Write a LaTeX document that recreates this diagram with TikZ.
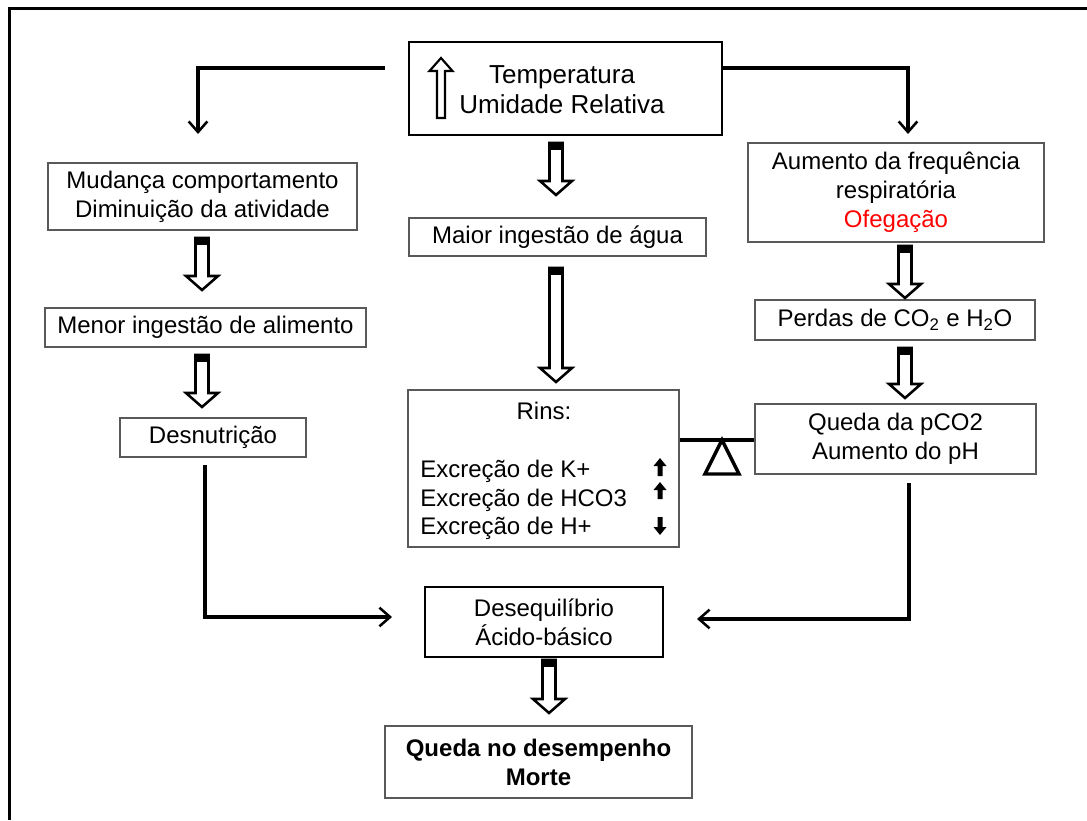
\documentclass[tikz,border=0pt]{standalone}
\usepackage{fontspec}
\setmainfont{Liberation Sans}
\usetikzlibrary{arrows.meta,calc}
\tikzset{
  box/.style={draw=black!65, line width=1.1pt, inner sep=0pt, align=center,
    font=\fontsize{18}{21.75}\selectfont},
  darkbox/.style={box, draw=black, line width=1.5pt},
  txt/.style={inner sep=0pt, align=center, font=\fontsize{18}{21.75}\selectfont},
  conn/.style={line width=2.4pt, -{Straight Barb[length=8pt,width=14pt,line width=1.9pt]}},
  hollow/.style={line width=1.9pt, line join=miter, fill=white},
  frame/.style={line width=2.3pt},
  beam/.style={line width=2.6pt, line join=miter},
}
% hollow block arrow: x, top, tip  (pixel units)
\newcommand\harrow[3]{%
  \draw[hollow] (#1-6.5,#2) -- (#1-6.5,#3-14) -- (#1-16,#3-14) -- (#1,#3)
     -- (#1+16,#3-14) -- (#1+6.5,#3-14) -- (#1+6.5,#2) -- cycle;
  \fill (#1-6.5,#2) rectangle (#1+6.5,#2+7);}
% small filled arrow: x, tip, tail
\newcommand\sarrow[3]{%
  \fill (#1,#2) -- (#1+6.5,{#2+8*sign(#3-#2)}) -- (#1+2.5,{#2+8*sign(#3-#2)})
     -- (#1+2.5,#3) -- (#1-2.5,#3) -- (#1-2.5,{#2+8*sign(#3-#2)})
     -- (#1-6.5,{#2+8*sign(#3-#2)}) -- cycle;}
\begin{document}
\begin{tikzpicture}[x=0.75pt,y=-0.75pt]
\useasboundingbox (0,0) rectangle (1087,820);
\draw[frame] (9.5,820) -- (9.5,8.5) -- (1087,8.5);

% boxes
\node[darkbox, minimum width=313*0.75pt, minimum height=93*0.75pt] (temp) at (565.5,88.5) {};
\node[txt, font=\fontsize{19.5}{22.5}\selectfont] (temptxt) at (562,90) {Temperatura\\Umidade Relativa};
\draw[line width=1.6pt, line join=miter] (441,58) -- (452.5,71) -- (445,71) -- (445,118)
   -- (437,118) -- (437,71) -- (429.5,71) -- cycle;

\node[box, minimum width=309*0.75pt, minimum height=67*0.75pt] (mud) at (202.5,196.5)
  {Mudança comportamento\\Diminuição da atividade};
\node[box, minimum width=321*0.75pt, minimum height=39*0.75pt] (menor) at (205.5,327.5)
  {Menor ingestão de alimento};
\node[box, minimum width=186*0.75pt, minimum height=39*0.75pt] (desn) at (213,437.5)
  {Desnutrição};

\node[box, minimum width=297*0.75pt, minimum height=38*0.75pt] (maior) at (557.5,237)
  {Maior ingestão de água};
\node[box, minimum width=271*0.75pt, minimum height=157*0.75pt] (rins) at (543.5,468.5) {};
\node[txt, anchor=base] (rinst) at (544,419) {Rins:};
\node[txt, anchor=base west] (r1) at (420,477) {Excreção de K+};
\node[txt, anchor=base west] (r2) at (420,506) {Excreção de HCO3};
\node[txt, anchor=base west] (r3) at (420,534) {Excreção de H+};
\sarrow{660}{458}{476}
\sarrow{660}{482}{499}
\sarrow{660}{535}{517}

\node[darkbox, minimum width=238*0.75pt, minimum height=70*0.75pt] (deseq) at (544,622)
  {Desequilíbrio\\Ácido-básico};
\node[box, minimum width=307*0.75pt, minimum height=72*0.75pt, font=\bfseries\fontsize{18}{21.75}\selectfont] (queda) at (538.5,762)
  {Queda no desempenho\\Morte};

\node[box, minimum width=296*0.75pt, minimum height=99*0.75pt] (aum) at (896,192.5)
  {Aumento da frequência\\respiratória\\\textcolor{red}{Ofegação}};
\node[box, minimum width=280*0.75pt, minimum height=40*0.75pt] (perdas) at (895,320)
  {Perdas de CO\textsubscript{2} e H\textsubscript{2}O};
\node[box, minimum width=281*0.75pt, minimum height=70*0.75pt] (qpco) at (895.5,439)
  {Queda da pCO2\\Aumento do pH};

% hollow arrows
\harrow{202}{238}{290}
\harrow{202}{355}{407}
\harrow{556}{143}{195}
\harrow{556}{268}{382}
\harrow{905}{246}{298}
\harrow{905}{348}{398}
\harrow{549}{660}{713}

% connectors
\coordinate (tl) at (385,68);
\coordinate (tlend) at (198,134);
\draw[conn] (tl) -| (tlend);
\coordinate (tr) at (722,68);
\coordinate (trend) at (908,134);
\draw[conn] (tr) -| (trend);
\coordinate (dl) at (205,465);
\coordinate (dlend) at (392,617);
\draw[conn] (dl) |- (dlend);
\coordinate (dr) at (909,483);
\coordinate (drend) at (697,619);
\draw[conn] (dr) |- (drend);

% balance
\draw[beam] (rins.east |- 0,440) -- (qpco.west |- 0,440);
\coordinate (fulc) at (722,440);
\draw[beam] (fulc) -- (739,474) -- (705,474) -- cycle;
\end{tikzpicture}
\end{document}
